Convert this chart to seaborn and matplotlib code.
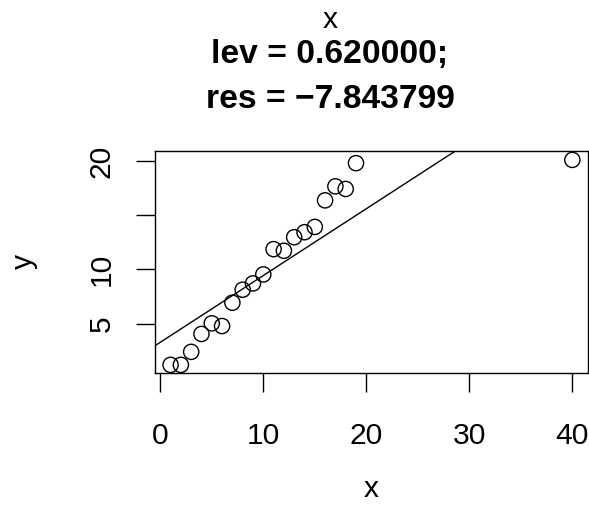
import numpy as np
import pandas as pd
import matplotlib
matplotlib.use("Agg")
import matplotlib.pyplot as plt
import seaborn as sns

# Données
x_vals = list(range(1, 20)) + [40]
y_vals = [1.2, 1.2, 2.4, 4.05, 5.03, 4.78, 6.93, 8.13, 8.71, 9.54,
          11.87, 11.72, 12.97, 13.43, 13.92, 16.37, 17.66, 17.42, 19.8, 20.1]
x_ticks = [0, 10, 20, 30, 40]
y_ticks = [5, 10, 15, 20]
y_ticklabels = ["5", "10", "", "20"]

df = pd.DataFrame({"x": x_vals, "y": y_vals})

sns.set_theme(style="white")
plt.rcParams["font.family"] = ["Liberation Sans", "DejaVu Sans"]
plt.rcParams["text.color"] = "black"
plt.rcParams["axes.labelcolor"] = "black"

fig = plt.figure(figsize=(5.89, 5.23), dpi=100)
ax = fig.add_axes([154.5 / 589, 1 - 373 / 523, (588.4 - 154.5) / 589, (373 - 151) / 523])

ax.set_xlim(-0.56, 41.56)
ax.set_ylim(0.45, 20.92)

sns.scatterplot(data=df, x="x", y="y", ax=ax, marker="o", s=120,
                facecolors="none", edgecolor="black", linewidth=1.0)
sns.regplot(data=df, x="x", y="y", ax=ax, scatter=False, ci=None,
            truncate=False, line_kws=dict(color="black", lw=1.0))

ax.set_xlim(-0.56, 41.56)
ax.set_ylim(0.45, 20.92)

for s in ax.spines.values():
    s.set_color("black")
    s.set_linewidth(1.0)

ax.set_xticks(x_ticks)
ax.set_xticklabels([str(t) for t in x_ticks])
ax.set_yticks(y_ticks)
ax.set_yticklabels(y_ticklabels, rotation=90, va="center")
ax.tick_params(axis="both", direction="out", length=14, width=1.0,
               color="black", labelsize=21.6, labelcolor="black",
               bottom=True, left=True)
ax.tick_params(axis="x", pad=21)
ax.tick_params(axis="y", pad=14)
ax.set_xlabel("")
ax.set_ylabel("")

fig.text(330 / 589, 1 - 28.3 / 523, "x", ha="center", va="baseline", fontsize=21.6)
fig.text(330 / 589, 1 - 62.7 / 523, "lev = 0.620000;", ha="center", va="baseline",
         fontsize=24.2, fontweight="bold")
fig.text(330 / 589, 1 - 108.3 / 523, "res = \u22127.843799", ha="center", va="baseline",
         fontsize=24.2, fontweight="bold")
fig.text(371 / 589, 1 - 497 / 523, "x", ha="center", va="baseline", fontsize=21.6)
fig.text(32 / 589, 0.5, "y", rotation=90, rotation_mode="anchor",
         ha="center", va="baseline", fontsize=21.6)

fig.savefig("out.png", dpi=100)
